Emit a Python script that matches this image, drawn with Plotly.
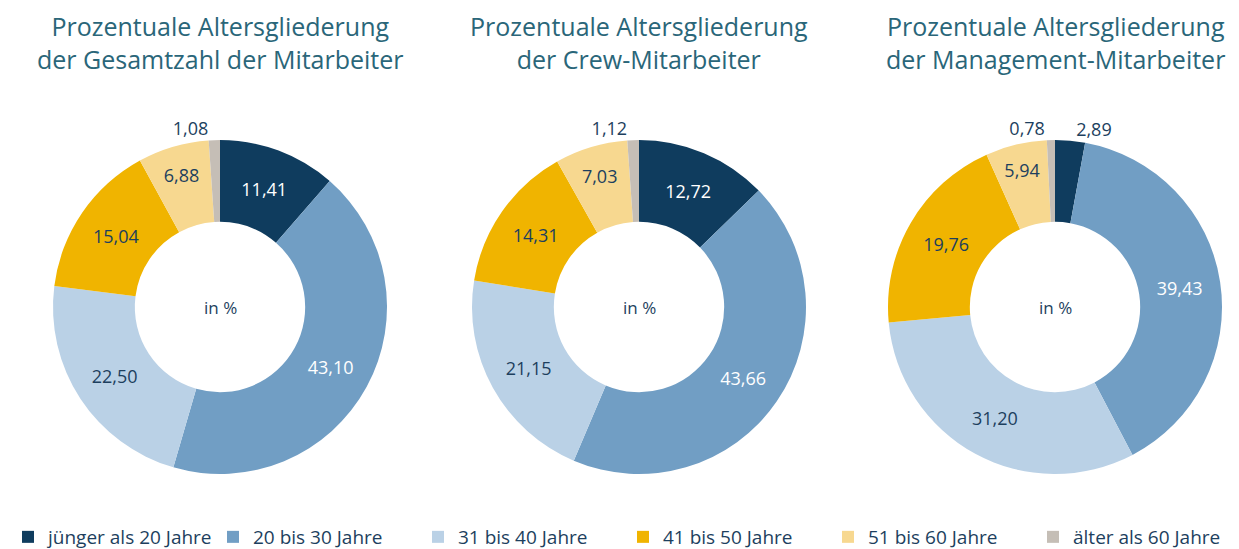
import plotly.graph_objects as go

categories = ["jünger als 20 Jahre", "20 bis 30 Jahre", "31 bis 40 Jahre",
              "41 bis 50 Jahre", "51 bis 60 Jahre", "älter als 60 Jahre"]
gesamt = [11.41, 43.10, 22.50, 15.04, 6.88, 1.08]
crew = [12.72, 43.66, 21.15, 14.31, 7.03, 1.12]
management = [2.89, 39.43, 31.20, 19.76, 5.94, 0.78]
titles = ["Prozentuale Altersgliederung<br>der Gesamtzahl der Mitarbeiter",
          "Prozentuale Altersgliederung<br>der Crew-Mitarbeiter",
          "Prozentuale Altersgliederung<br>der Management-Mitarbeiter"]
center_label = "in %"

colors = ["#0f3c5e", "#719ec4", "#bad1e6", "#f0b400", "#f7d890", "#c5beb6"]
FONT = "Open Sans"
NAVY = "#1d3f5e"
TITLE_C = "#2a6679"

OFF = 8  # page body margin
W, H = 1239 - OFF, 549 - OFF
centers_x = [220 - OFF, 639 - OFF, 1055 - OFF]
cy = 307 - OFF
R = 167

fig = go.Figure()
for i, (vals, cx) in enumerate(zip([gesamt, crew, management], centers_x)):
    text = [f"{v:.2f}".replace(".", ",") for v in vals]
    pos = ["outside" if v < 5 else "inside" for v in vals]
    tcol = ["white", "white", NAVY, NAVY, NAVY, NAVY]
    tcol = [NAVY if p == "outside" else c for p, c in zip(pos, tcol)]
    fig.add_trace(go.Pie(
        labels=categories, values=vals, text=text, textinfo="text",
        textposition=pos, hole=0.51, sort=False, direction="clockwise",
        rotation=0,
        marker=dict(colors=colors, line=dict(width=0)),
        textfont=dict(family=FONT, size=18, color=tcol),
        insidetextorientation="horizontal",
        domain=dict(x=[(cx - R) / W, (cx + R) / W],
                    y=[(H - cy - R) / H, (H - cy + R) / H]),
        hoverinfo="label+value", showlegend=(i == 0),
    ))
    fig.add_annotation(x=cx / W, y=(H - cy) / H, xref="paper", yref="paper",
                       xanchor="center", yanchor="middle",
                       text=center_label, showarrow=False,
                       font=dict(family=FONT, size=17, color=NAVY))
    fig.add_annotation(x=cx / W, y=(H - (42 - OFF)) / H, xref="paper", yref="paper",
                       xanchor="center", yanchor="middle",
                       text=titles[i], showarrow=False, align="center",
                       font=dict(family=FONT, size=25, color=TITLE_C))

fig.update_layout(
    width=W, height=H, margin=dict(l=0, r=0, t=0, b=0, autoexpand=False),
    paper_bgcolor="white", plot_bgcolor="white",
    legend=dict(orientation="h", x=0, y=(H - (537 - OFF)) / H,
                xanchor="left", yanchor="middle",
                entrywidth=160, entrywidthmode="pixels", traceorder="normal",
                font=dict(family=FONT, size=19, color=NAVY)),
)
fig.write_html("out.html")
